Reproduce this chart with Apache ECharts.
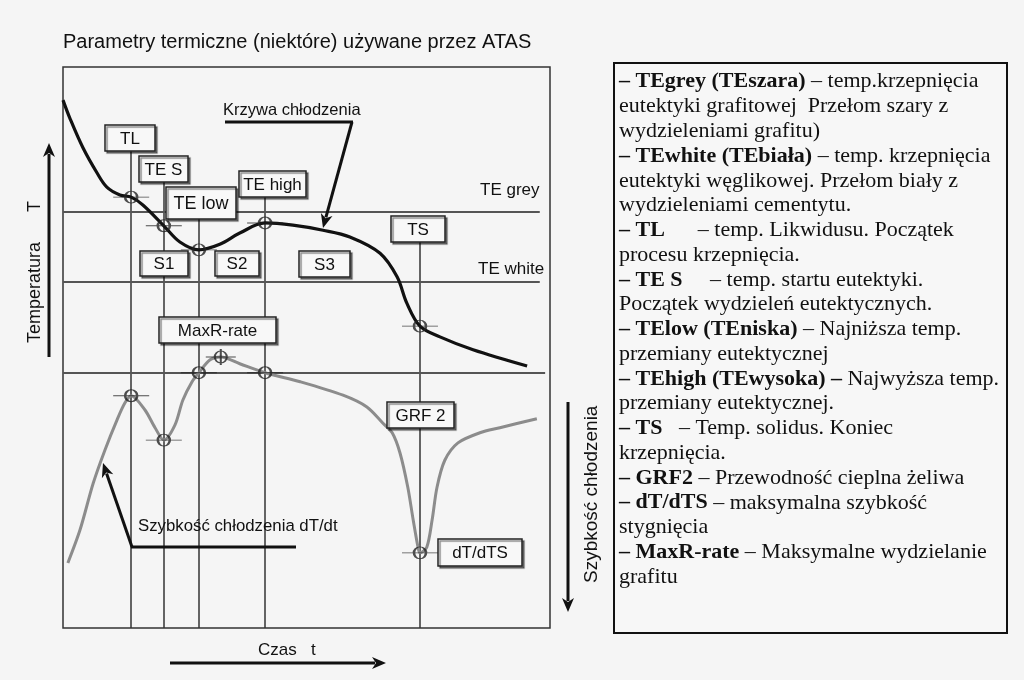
<!DOCTYPE html>
<html>
<head>
<meta charset="utf-8">
<script src="https://cdn.jsdelivr.net/npm/echarts@6/dist/echarts.min.js"></script>
<style>
  html, body { margin: 0; background: #f5f5f5; }
  #chart { width: 1024px; height: 680px; }
</style>
</head>
<body>
<div id="chart"></div>
<script>
// czas i temperatura w jednostkach umownych (0-100)
const coolingTime = [0, 1.4, 4.1, 7.0, 9.0, 11.7, 14.0, 16.4, 20.7, 24.0, 27.9, 32.2, 36.3, 41.5, 47.2, 53.4, 58.9, 65.1, 68.6, 70.6, 73.3, 77.4, 84.2, 95.3]
const coolingTemp = [94.1, 90.9, 85.6, 81.1, 78.6, 77.2, 76.8, 75.4, 71.7, 68.8, 67.4, 68.4, 70.4, 72.2, 71.8, 70.9, 69.7, 66.8, 62.6, 57.9, 53.8, 51.9, 49.6, 46.7]

const rateTime = [1.0, 3.5, 6.2, 8.6, 11.1, 12.7, 14.0, 16.8, 18.9, 20.7, 23.0, 24.6, 26.5, 27.9, 30.2, 32.4, 36.3, 41.5, 48.7, 57.5, 62.4, 65.7, 67.6, 69.2, 70.8, 71.9, 72.9, 73.3, 74.7, 75.8, 76.8, 78.4, 81.1, 85.6, 89.7, 97.3]
const rateValue = [11.6, 17.5, 25.8, 31.7, 37.1, 40.1, 41.4, 38.9, 35.7, 33.5, 36.2, 40.6, 43.9, 45.5, 47.8, 48.3, 47.1, 45.5, 43.9, 41.5, 39.4, 36.5, 34.8, 31.2, 25.1, 19.3, 14.4, 13.4, 14.4, 19.3, 25.1, 29.9, 33.0, 34.8, 35.7, 37.3]

// punkty charakterystyczne: TL, TE S, TE low, TE high, TS
const eventNames = ['TL', 'TE S', 'TE low', 'TE high', 'TS']
const eventTimes = [14.0, 20.7, 27.9, 41.5, 73.3]
const eventTemp = [76.8, 71.7, 67.4, 72.2, 53.8]
const eventRate = [41.4, 33.5, 45.5, 45.5, 13.4]
const maxRatePoint = [32.4, 48.3]

const levelNames = ['TE grey', 'TE white']
const levelValues = [74.2, 61.7]
const rateLevel = 45.5

// gorne konce linii pionowych (pod ramkami opisow)
const lineTops = [85.0, 79.5, 72.9, 76.8, 68.8]

const legendLines = [
  ['– TEgrey (TEszara)', ' – temp.krzepnięcia'],
  ['', 'eutektyki grafitowej  Przełom szary z'],
  ['', 'wydzieleniami grafitu)'],
  ['– TEwhite (TEbiała)', ' – temp. krzepnięcia'],
  ['', 'eutektyki węglikowej. Przełom biały z'],
  ['', 'wydzieleniami cementytu.'],
  ['– TL', '      – temp. Likwidusu. Początek'],
  ['', 'procesu krzepnięcia.'],
  ['– TE S', '     – temp. startu eutektyki.'],
  ['', 'Początek wydzieleń eutektycznych.'],
  ['– TElow (TEniska)', ' – Najniższa temp.'],
  ['', 'przemiany eutektycznej'],
  ['– TEhigh (TEwysoka) –', ' Najwyższa temp.'],
  ['', 'przemiany eutektycznej.'],
  ['– TS', '   – Temp. solidus. Koniec'],
  ['', 'krzepnięcia.'],
  ['– GRF2', ' – Przewodność cieplna żeliwa'],
  ['– dT/dTS', ' – maksymalna szybkość'],
  ['', 'stygnięcia'],
  ['– ', '{b|MaxR-rate} – Maksymalne wydzielanie'],
  ['', 'grafitu']
]

const SANS = '"Liberation Sans", Arial, sans-serif'
const SERIF = '"Liberation Serif", "Times New Roman", serif'

let chart = echarts.init(document.getElementById('chart'), null, { renderer: 'canvas' })

function arrow(x1, y1, x2, y2, w) {
  let dx = x2 - x1, dy = y2 - y1, L = Math.hypot(dx, dy)
  let ux = dx / L, uy = dy / L, hl = 14, hw = 6
  let bx = x2 - ux * hl, by = y2 - uy * hl
  return [
    { type: 'line', z: 50, shape: { x1: x1, y1: y1, x2: bx + ux * 3, y2: by + uy * 3 }, style: { stroke: '#111', lineWidth: w || 3 } },
    { type: 'polygon', z: 50, shape: { points: [[x2, y2], [bx - uy * hw, by + ux * hw], [bx + ux * 4, by + uy * 4], [bx + uy * hw, by - ux * hw]] }, style: { fill: '#111' } }
  ]
}

function box(label, x, y, w, h, size) {
  return [
    { type: 'rect', z: 40, shape: { x: x, y: y, width: w, height: h },
      style: { fill: '#f8f8f8', stroke: '#222', lineWidth: 1.5, shadowColor: 'rgba(0,0,0,0.45)', shadowOffsetX: 2, shadowOffsetY: 2, shadowBlur: 1 } },
    { type: 'text', z: 41, x: x + w / 2, y: y + h / 2 + 1,
      style: { text: label, fill: '#111', font: (size || 17) + 'px ' + SANS, align: 'center', verticalAlign: 'middle' } }
  ]
}

function text(str, x, y, size, extra) {
  return Object.assign({ type: 'text', z: 45, x: x, y: y,
    style: { text: str, fill: '#111', font: size + 'px ' + SANS, align: 'left', verticalAlign: 'middle' } }, extra || {})
}

let graphics = []
  .concat(box(eventNames[0], 105, 125, 50, 26))
  .concat(box(eventNames[1], 139, 156, 49, 26))
  .concat(box(eventNames[2], 166, 187, 70, 32, 18))
  .concat(box(eventNames[3], 239, 171, 67, 26))
  .concat(box(eventNames[4], 391, 216, 54, 26))
  .concat(box('S1', 140, 251, 48, 25))
  .concat(box('S2', 215, 251, 44, 25))
  .concat(box('S3', 299, 251, 51, 26))
  .concat(box('MaxR-rate', 159, 317, 117, 26))
  .concat(box('GRF 2', 387, 402, 67, 26))
  .concat(box('dT/dTS', 438, 539, 84, 27))

graphics.push(text('Parametry termiczne (niektóre) używane przez ATAS', 63, 42, 20))
graphics.push(text(levelNames[0], 480, 190, 17))
graphics.push(text(levelNames[1], 478, 269, 17))
graphics.push(text('Krzywa chłodzenia', 223, 110, 16.5))
graphics.push(text('Szybkość chłodzenia dT/dt', 138, 526, 16.8))
graphics.push(text('Czas   t', 258, 650, 17))
graphics.push(text('Temperatura      T', 35, 343, 18, { rotation: Math.PI / 2 }))
graphics.push(text('Szybkość chłodzenia', 592, 583, 19, { rotation: Math.PI / 2 }))

// strzalki
graphics.push({ type: 'line', z: 50, shape: { x1: 225, y1: 122, x2: 353, y2: 122 }, style: { stroke: '#111', lineWidth: 3 } })
graphics = graphics.concat(arrow(352, 122, 323, 228))
graphics.push({ type: 'line', z: 50, shape: { x1: 131, y1: 547, x2: 296, y2: 547 }, style: { stroke: '#111', lineWidth: 3 } })
graphics = graphics.concat(arrow(132, 547, 103, 463))
graphics = graphics.concat(arrow(49, 357, 49, 143))
graphics = graphics.concat(arrow(568, 402, 568, 612))
graphics = graphics.concat(arrow(170, 663, 386, 663))

// ramka z opisem
graphics.push({ type: 'rect', z: 30, shape: { x: 614, y: 63, width: 393, height: 570 }, style: { fill: '#f7f7f7', stroke: '#111', lineWidth: 2 } })
legendLines.forEach((ln, i) => {
  graphics.push({ type: 'text', z: 45, x: 619, y: 81.7 + 24.77 * i,
    style: {
      text: (ln[0] ? '{b|' + ln[0] + '}' : '') + '{r|' + ln[1].replace('{b|MaxR-rate}', '}{b|MaxR-rate}{r|') + '}',
      verticalAlign: 'middle', align: 'left',
      rich: {
        b: { fontFamily: SERIF, fontSize: 22, fontWeight: 'bold', fill: '#111' },
        r: { fontFamily: SERIF, fontSize: 22, fill: '#111' }
      }
    } })
})

let vLines = eventTimes.map((t, i) => [
  { coord: [t, lineTops[i]] }, { coord: [t, 0] }
])
let hLines = levelValues.map(v => [{ coord: [0, v] }, { coord: [97.9, v] }])
hLines.push([{ coord: [0, rateLevel] }, { coord: [99.0, rateLevel] }])

const markerPath = 'path://M0,6L36,6M24,6A6,6,0,1,1,12,6A6,6,0,1,1,24,6'
const maxPath = 'path://M0,8L30,8M15,0L15,16M21,8A6,6,0,1,1,9,8A6,6,0,1,1,21,8'

let option = {
  backgroundColor: '#f5f5f5',
  animation: false,
  grid: { left: 63, top: 67, width: 487, height: 561, show: true, borderColor: '#333', borderWidth: 1.5, backgroundColor: 'transparent' },
  xAxis: { type: 'value', min: 0, max: 100, show: false },
  yAxis: { type: 'value', min: 0, max: 100, show: false },
  graphic: graphics,
  series: [
    {
      type: 'line', data: [], z: 1, silent: true,
      markLine: {
        silent: true, symbol: ['none', 'none'], label: { show: false },
        lineStyle: { color: '#333', width: 1.5, type: 'solid' },
        data: vLines
      }
    },
    {
      type: 'line', data: [], z: 1, silent: true,
      markLine: {
        silent: true, symbol: ['none', 'none'], label: { show: false },
        lineStyle: { color: '#555', width: 2, type: 'solid' },
        data: hLines
      }
    },
    {
      name: 'Krzywa chłodzenia', type: 'line', z: 5, smooth: 0.35, symbol: 'none',
      lineStyle: { color: '#111', width: 3.2 },
      data: coolingTime.map((t, i) => [t, coolingTemp[i]])
    },
    {
      name: 'Szybkość chłodzenia', type: 'line', z: 5, smooth: 0.3, symbol: 'none',
      lineStyle: { color: '#8c8c8c', width: 3 },
      data: rateTime.map((t, i) => [t, rateValue[i]])
    },
    {
      type: 'scatter', z: 8, symbol: markerPath, symbolSize: [36, 12],
      itemStyle: { color: 'rgba(0,0,0,0)', borderColor: '#222', borderWidth: 1.5 },
      data: eventTimes.map((t, i) => [t, eventTemp[i]]).concat(eventTimes.map((t, i) => [t, eventRate[i]]))
    },
    {
      type: 'scatter', z: 8, symbol: maxPath, symbolSize: [30, 16],
      itemStyle: { color: 'rgba(0,0,0,0)', borderColor: '#222', borderWidth: 1.5 },
      data: [maxRatePoint]
    }
  ]
}
chart.setOption(option)
</script>
</body>
</html>
